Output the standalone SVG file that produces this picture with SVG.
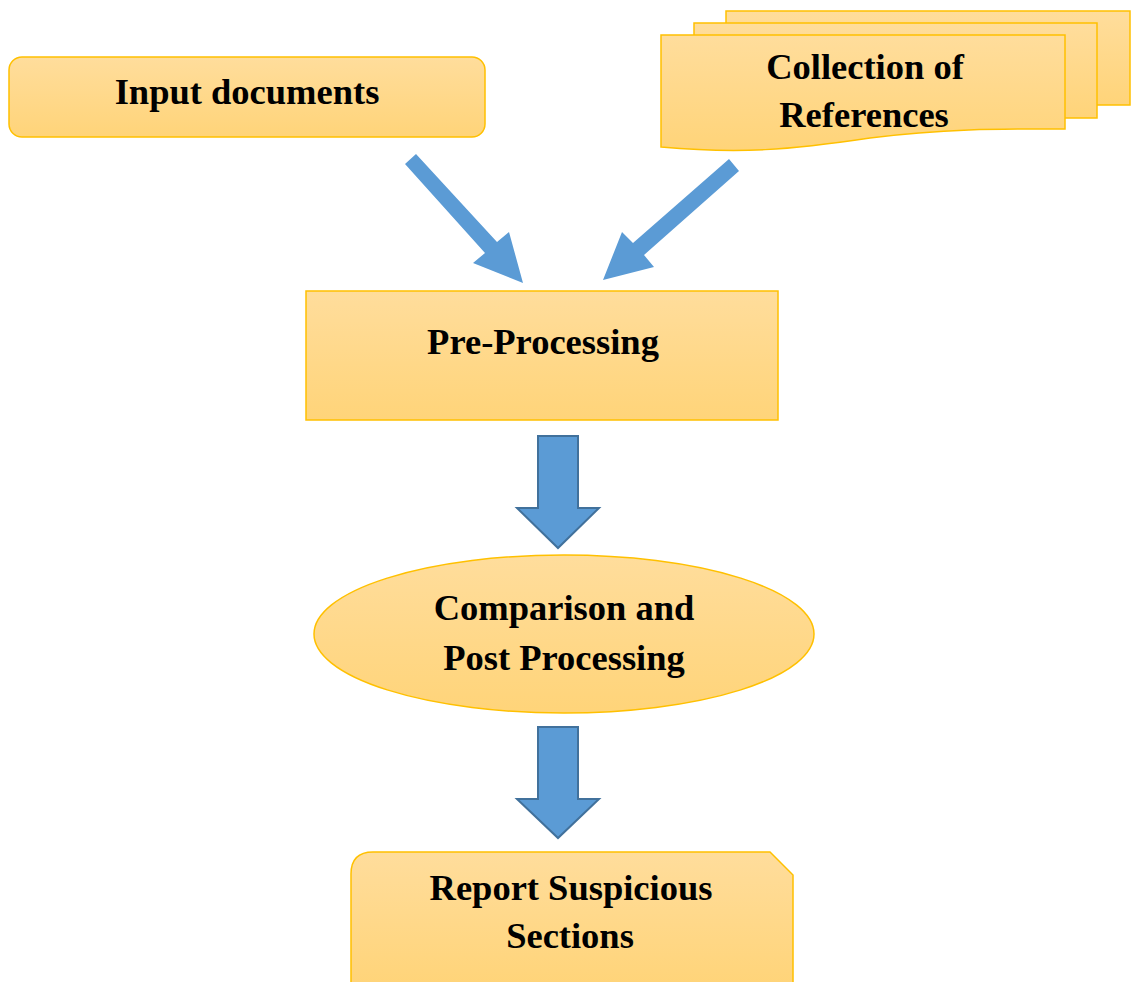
<svg xmlns="http://www.w3.org/2000/svg" width="1132" height="982" viewBox="0 0 1132 982">
  <defs>
    <linearGradient id="gold" x1="0" y1="0" x2="0" y2="1">
      <stop offset="0" stop-color="#FFDD9C"/>
      <stop offset="1" stop-color="#FFD479"/>
    </linearGradient>
    <style>
      .shape { fill: url(#gold); stroke: #FFC000; stroke-width: 1.5; }
      .label { font-family: "Liberation Serif", "Times New Roman", serif; font-weight: bold; font-size: 36.5px; fill: #000; text-anchor: middle; }
      .flow { fill: #5B9BD5; }
      .flow-outlined { fill: #5B9BD5; stroke: #41719C; stroke-width: 2; stroke-linejoin: miter; }
    </style>
  </defs>

  <rect width="1132" height="982" fill="#FFFFFF"/>

  <!-- Input documents: rounded rectangle -->
  <g id="input-documents">
    <rect class="shape" x="9" y="57" width="476" height="80" rx="13"/>
    <text class="label" x="247" y="104">Input documents</text>
  </g>

  <!-- Collection of References: stacked multi-document -->
  <g id="collection-of-references">
    <rect class="shape" x="726" y="11" width="404" height="94"/>
    <rect class="shape" x="694" y="23" width="403" height="95"/>
    <path class="shape" d="M661,35 H1065 V129 C1010,129 950,128 870,138 C790,150 740,154 661,147 Z"/>
    <text class="label" x="865" y="79">Collection of</text>
    <text class="label" x="864" y="127">References</text>
  </g>

  <!-- Pre-Processing: rectangle -->
  <g id="pre-processing">
    <rect class="shape" x="306" y="291" width="472" height="129"/>
    <text class="label" x="543" y="354">Pre-Processing</text>
  </g>

  <!-- Comparison and Post Processing: ellipse -->
  <g id="comparison-post-processing">
    <ellipse class="shape" cx="564" cy="634" rx="250" ry="79"/>
    <text class="label" x="564" y="620">Comparison and</text>
    <text class="label" x="564" y="670">Post Processing</text>
  </g>

  <!-- Report Suspicious Sections: one rounded corner, one snipped corner -->
  <g id="report-suspicious-sections">
    <path class="shape" d="M351,985 V874 Q351,852 373,852 H770 L793,875 V985"/>
    <text class="label" x="571" y="900">Report Suspicious</text>
    <text class="label" x="570" y="948">Sections</text>
  </g>

  <!-- Block arrows between steps -->
  <g id="connectors">
    <polygon class="flow" points="405,164 416,154 497,242 509,232 523,283 473,263 485,253"/>
    <polygon class="flow" points="739,171 729,159 633,243 622,232 603,280 654,267 644,255"/>
    <polygon class="flow-outlined" points="538,436 578,436 578,508 599,508 558,548 517,508 538,508"/>
    <polygon class="flow-outlined" points="538,727 578,727 578,799 599,799 558,838 517,799 538,799"/>
  </g>
</svg>
